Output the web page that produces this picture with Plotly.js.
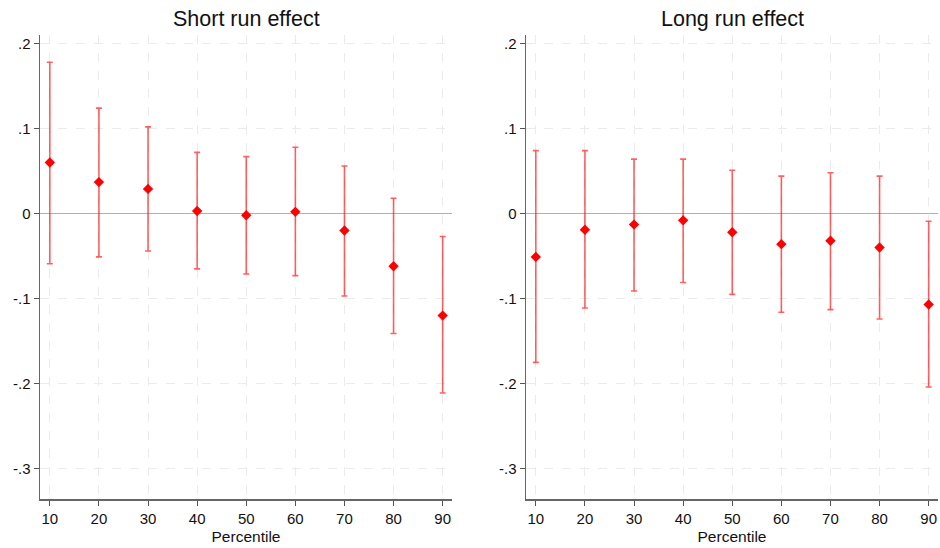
<!DOCTYPE html>
<html>
<head>
<meta charset="utf-8">
<script src="https://cdn.plot.ly/plotly-3.0.1.min.js"></script>
<style>html,body{margin:0;padding:0;background:#fff;} #chart{width:940px;height:548px;}</style>
</head>
<body>
<div id="chart"></div>
<script>
const percentiles = [10, 20, 30, 40, 50, 60, 70, 80, 90];
const shortEst   = [0.060, 0.037, 0.029, 0.003, -0.002, 0.002, -0.020, -0.062, -0.120];
const shortUpper = [0.178, 0.124, 0.102, 0.072, 0.067, 0.078, 0.056, 0.018, -0.027];
const shortLower = [-0.059, -0.051, -0.044, -0.065, -0.071, -0.073, -0.097, -0.141, -0.211];
const longEst    = [-0.051, -0.019, -0.013, -0.008, -0.022, -0.036, -0.032, -0.040, -0.107];
const longUpper  = [0.074, 0.074, 0.064, 0.064, 0.051, 0.044, 0.048, 0.044, -0.009];
const longLower  = [-0.175, -0.111, -0.091, -0.081, -0.095, -0.116, -0.113, -0.124, -0.204];
const yTickVals  = [0.2, 0.1, 0, -0.1, -0.2, -0.3];
const yTickText  = ['.2', '.1', '0', '-.1', '-.2', '-.3'];
const panelTitles = ['Short run effect', 'Long run effect'];
const xTitle = 'Percentile';

function mkTrace(est, up, lo, xa, ya) {
  return {
    x: percentiles, y: est, type: 'scatter', mode: 'markers',
    xaxis: xa, yaxis: ya,
    marker: {symbol: 'diamond', size: 8, color: '#ff0000'},
    error_y: {
      type: 'data', symmetric: false,
      array: up.map((u, i) => u - est[i]),
      arrayminus: lo.map((l, i) => est[i] - l),
      color: 'rgba(255,0,0,0.62)', thickness: 1.6, width: 3
    },
    showlegend: false, hoverinfo: 'x+y'
  };
}

const font = {family: 'Liberation Sans, Arial, Helvetica, sans-serif', color: '#111'};

function xAxis(domain, anchor) {
  return {
    domain: domain, anchor: anchor, range: [8.0, 91.9],
    tickvals: percentiles, ticks: 'outside', ticklen: 5, tickcolor: '#555', tickwidth: 1,
    showline: true, linecolor: '#666', linewidth: 1.5, mirror: false,
    showgrid: true, gridcolor: '#ebebeb', griddash: 'dash', gridwidth: 1,
    zeroline: false, tickfont: Object.assign({size: 15}, font),
    title: {text: xTitle, font: Object.assign({size: 15.5}, font), standoff: 5}
  };
}
function yAxis(domain, anchor) {
  return {
    domain: domain, anchor: anchor, range: [-0.3357, 0.21],
    tickvals: yTickVals, ticktext: yTickText, ticks: 'outside', ticklen: 5, tickcolor: '#555', tickwidth: 1,
    showline: true, linecolor: '#666', linewidth: 1.5, mirror: false,
    showgrid: true, gridcolor: '#ebebeb', griddash: 'dash', gridwidth: 1,
    zeroline: true, zerolinecolor: '#b0b0b0', zerolinewidth: 1.5,
    tickfont: Object.assign({size: 15}, font)
  };
}

const d1 = [40/940, 452/940], d2 = [526/940, 938/940];
const layout = {
  width: 940, height: 548,
  margin: {l: 0, r: 0, t: 35, b: 49},
  paper_bgcolor: '#fff', plot_bgcolor: '#fff',
  xaxis: xAxis(d1, 'y'), yaxis: yAxis([0, 1], 'x'),
  xaxis2: xAxis(d2, 'y2'), yaxis2: yAxis([0, 1], 'x2'),
  annotations: [
    {text: panelTitles[0], xref: 'paper', yref: 'paper', x: (d1[0]+d1[1])/2, y: 1, yshift: 16, xanchor: 'center', yanchor: 'middle', showarrow: false, font: Object.assign({size: 21.5}, font)},
    {text: panelTitles[1], xref: 'paper', yref: 'paper', x: (d2[0]+d2[1])/2, y: 1, yshift: 16, xanchor: 'center', yanchor: 'middle', showarrow: false, font: Object.assign({size: 21.5}, font)}
  ]
};

Plotly.newPlot('chart', [
  mkTrace(shortEst, shortUpper, shortLower, 'x', 'y'),
  mkTrace(longEst, longUpper, longLower, 'x2', 'y2')
], layout, {displayModeBar: false, staticPlot: true});
</script>
</body>
</html>
